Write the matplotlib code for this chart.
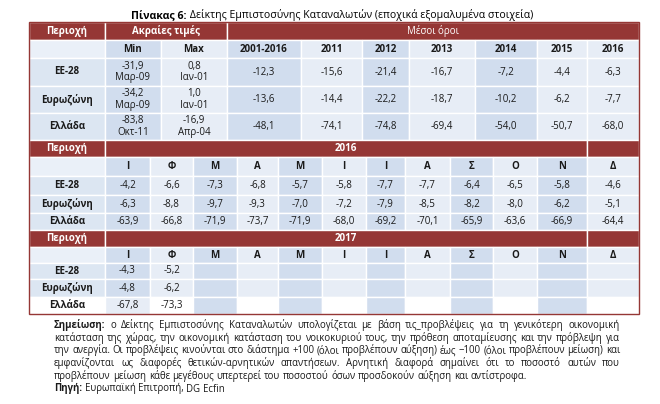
import matplotlib
matplotlib.use("Agg")
import matplotlib.pyplot as plt
from matplotlib.patches import Rectangle

FAM = ['Open Sans', 'Noto Sans', 'DejaVu Sans']
plt.rcParams['font.family'] = FAM

# ---------------- data ----------------
title_bold = "Πίνακας 6:"
title_rest = " Δείκτης Εμπιστοσύνης Καταναλωτών (εποχικά εξομαλυμένα στοιχεία)"
regions = ["ΕΕ-28", "Ευρωζώνη", "Ελλάδα"]
min_vals = ["-31,9", "-34,2", "-83,8"]
min_dates = ["Μαρ-09", "Μαρ-09", "Οκτ-11"]
max_vals = ["0,8", "1,0", "-16,9"]
max_dates = ["Ιαν-01", "Ιαν-01", "Απρ-04"]
avg_periods = ["2001-2016", "2011", "2012", "2013", "2014", "2015", "2016"]
avg_vals = [
    ["-12,3", "-15,6", "-21,4", "-16,7", "-7,2", "-4,4", "-6,3"],
    ["-13,6", "-14,4", "-22,2", "-18,7", "-10,2", "-6,2", "-7,7"],
    ["-48,1", "-74,1", "-74,8", "-69,4", "-54,0", "-50,7", "-68,0"],
]
months = ["Ι", "Φ", "Μ", "Α", "Μ", "Ι", "Ι", "Α", "Σ", "Ο", "Ν", "Δ"]
vals_2016 = [
    ["-4,2", "-6,6", "-7,3", "-6,8", "-5,7", "-5,8", "-7,7", "-7,7", "-6,4", "-6,5", "-5,8", "-4,6"],
    ["-6,3", "-8,8", "-9,7", "-9,3", "-7,0", "-7,2", "-7,9", "-8,5", "-8,2", "-8,0", "-6,2", "-5,1"],
    ["-63,9", "-66,8", "-71,9", "-73,7", "-71,9", "-68,0", "-69,2", "-70,1", "-65,9", "-63,6", "-66,9", "-64,4"],
]
vals_2017 = [
    ["-4,3", "-5,2"],
    ["-4,8", "-6,2"],
    ["-67,8", "-73,3"],
]
hdr_region = "Περιοχή"
hdr_extreme = "Ακραίες τιμές"
hdr_avg = "Μέσοι όροι"
note_lines = [
    "ο Δείκτης Εμπιστοσύνης Καταναλωτών υπολογίζεται με βάση τις_προβλέψεις για τη γενικότερη οικονομική",
    "κατάσταση της χώρας, την οικονομική κατάσταση του νοικοκυριού τους, την πρόθεση αποταμίευσης και την πρόβλεψη για",
    "την ανεργία. Οι προβλέψεις κινούνται στο διάστημα +100 (όλοι προβλέπουν αύξηση) έως −100 (όλοι προβλέπουν μείωση) και",
    "εμφανίζονται ως διαφορές θετικών-αρνητικών απαντήσεων. Αρνητική διαφορά σημαίνει ότι το ποσοστό αυτών που",
    "προβλέπουν μείωση κάθε μεγέθους υπερτερεί του ποσοστού όσων προσδοκούν αύξηση και αντίστροφα.",
]
note_label = "Σημείωση:"
source_label = "Πηγή:"
source_text = "Ευρωπαϊκή Επιτροπή, DG Ecfin"

# ---------------- style ----------------
RED = "#953735"
DARK = "#d1ddee"
LIGHT = "#e7edf6"
REG = "#dce6f2"
REGH = "#eaf0f8"
TXT = "#1a1a1a"
FS = 7.0

W, H = 660, 404
fig = plt.figure(figsize=(W / 100, H / 100), dpi=100)
ax = fig.add_axes([0, 0, 1, 1])
ax.set_xlim(0, W)
ax.set_ylim(H, 0)
ax.axis("off")
fig.canvas.draw()
renderer = fig.canvas.get_renderer()


def measure(s, size, weight="normal"):
    t = ax.text(0, 0, s, fontsize=size, fontweight=weight)
    w = t.get_window_extent(renderer).width
    t.remove()
    return w


def cell(x0, x1, y0, y1, color, text=None, bold=False, ha="center", color_t=TXT, size=FS):
    ax.add_patch(Rectangle((x0, y0), x1 - x0, y1 - y0, facecolor=color,
                           edgecolor="white", linewidth=1.0))
    if text is not None:
        ax.text((x0 + x1) / 2, (y0 + y1) / 2, text, ha=ha, va="center",
                fontsize=size, fontweight="bold" if bold else "normal",
                color=color_t, linespacing=1.05)


# ---------------- title ----------------
TFS = 7.6
wb = measure(title_bold, TFS, "bold")
wr = measure(title_rest, TFS)
tx = 332 - (wb + wr) / 2
ax.text(tx, 18, title_bold, fontsize=TFS, fontweight="bold", va="baseline")
ax.text(tx + wb, 18, title_rest, fontsize=TFS, va="baseline")

# ---------------- top section ----------------
ty = [22, 40, 58, 86, 113, 140]
tcols = [29, 105, 161, 227, 301, 362, 409, 475, 537, 587, 639]
tshade = [DARK, LIGHT, DARK, LIGHT, DARK, LIGHT, DARK, LIGHT, LIGHT]

cell(29, 105, ty[0], ty[1], RED, hdr_region, True, color_t="white")
cell(105, 227, ty[0], ty[1], RED, hdr_extreme, True, color_t="white")
cell(227, 639, ty[0], ty[1], RED, hdr_avg, False, color_t="white")
cell(29, 105, ty[1], ty[2], REGH)
sub = ["Min", "Max"] + avg_periods
for j, s in enumerate(sub):
    cell(tcols[j + 1], tcols[j + 2], ty[1], ty[2], tshade[j], s, True)
for i, r in enumerate(regions):
    y0, y1 = ty[i + 2], ty[i + 3]
    cell(29, 105, y0, y1, REG, r, True)
    cell(tcols[1], tcols[2], y0, y1, tshade[0], min_vals[i] + "\n" + min_dates[i])
    cell(tcols[2], tcols[3], y0, y1, tshade[1], max_vals[i] + "\n" + max_dates[i])
    for j, v in enumerate(avg_vals[i]):
        cell(tcols[j + 3], tcols[j + 4], y0, y1, tshade[j + 2], v)

# ---------------- monthly sections ----------------
mcols = [29, 105, 150, 193, 237, 278, 322, 366, 405, 450, 493, 537, 587, 639]
mshade = [DARK if k % 2 == 0 else LIGHT for k in range(12)]


def monthly(ys, year, vals, white_last=False):
    cell(29, 105, ys[0], ys[1], RED, hdr_region, True, color_t="white")
    cell(105, 587, ys[0], ys[1], RED, year, True, color_t="white")
    cell(587, 639, ys[0], ys[1], RED)
    cell(29, 105, ys[1], ys[2], REGH)
    for k, m in enumerate(months):
        cell(mcols[k + 1], mcols[k + 2], ys[1], ys[2], mshade[k], m, True)
    for i, r in enumerate(regions):
        y0, y1 = ys[i + 2], ys[i + 3]
        last = white_last and i == len(regions) - 1
        cell(29, 105, y0, y1, "white" if last else REG, r, True)
        for k in range(12):
            shade = mshade[k]
            if last and (k % 2 == 1):
                shade = "white"
            v = vals[i][k] if k < len(vals[i]) else None
            if last and k == 0:
                shade = LIGHT
            cell(mcols[k + 1], mcols[k + 2], y0, y1, shade, v)


monthly([140, 157, 176, 195, 213, 230], "2016", vals_2016)
monthly([230, 247, 263, 279, 297, 314], "2017", vals_2017, white_last=True)

ax.add_patch(Rectangle((29, 22), 639 - 29, 314 - 22, facecolor="none",
                       edgecolor=RED, linewidth=1.0))

# ---------------- note (justified) ----------------
X0, X1 = 54, 620
ly = [328, 340.7, 353.4, 366.1, 378.8, 391.5]   # baselines

all_lines = [[(note_label, "bold")] + [(w, "normal") for w in note_lines[0].split(" ")]]
all_lines += [[(w, "normal") for w in ln.split(" ")] for ln in note_lines[1:]]
NFS = 7.4
while NFS > 5:
    sp = measure("a a", NFS) - measure("aa", NFS)
    ok = True
    for words in all_lines:
        tot = sum(measure(w, NFS, b) for w, b in words) + sp * 0.8 * (len(words) - 1)
        if tot > X1 - X0:
            ok = False
            break
    if ok:
        break
    NFS -= 0.1


def draw_words(words, y, justify):
    widths = [measure(w, NFS, b) for w, b in words]
    space = measure("a a", NFS) - measure("aa", NFS)
    if justify and len(words) > 1:
        gap = (X1 - X0 - sum(widths)) / (len(words) - 1)
    else:
        gap = space
    x = X0
    for (w, b), ww in zip(words, widths):
        ax.text(x, y, w, fontsize=NFS, fontweight=b, va="baseline", color=TXT)
        x += ww + gap


for n, words in enumerate(all_lines):
    draw_words(words, ly[n], justify=(n < len(all_lines) - 1))
draw_words([(source_label, "bold")] + [(w, "normal") for w in source_text.split(" ")], ly[5], False)

fig.savefig("out.png", dpi=100)
